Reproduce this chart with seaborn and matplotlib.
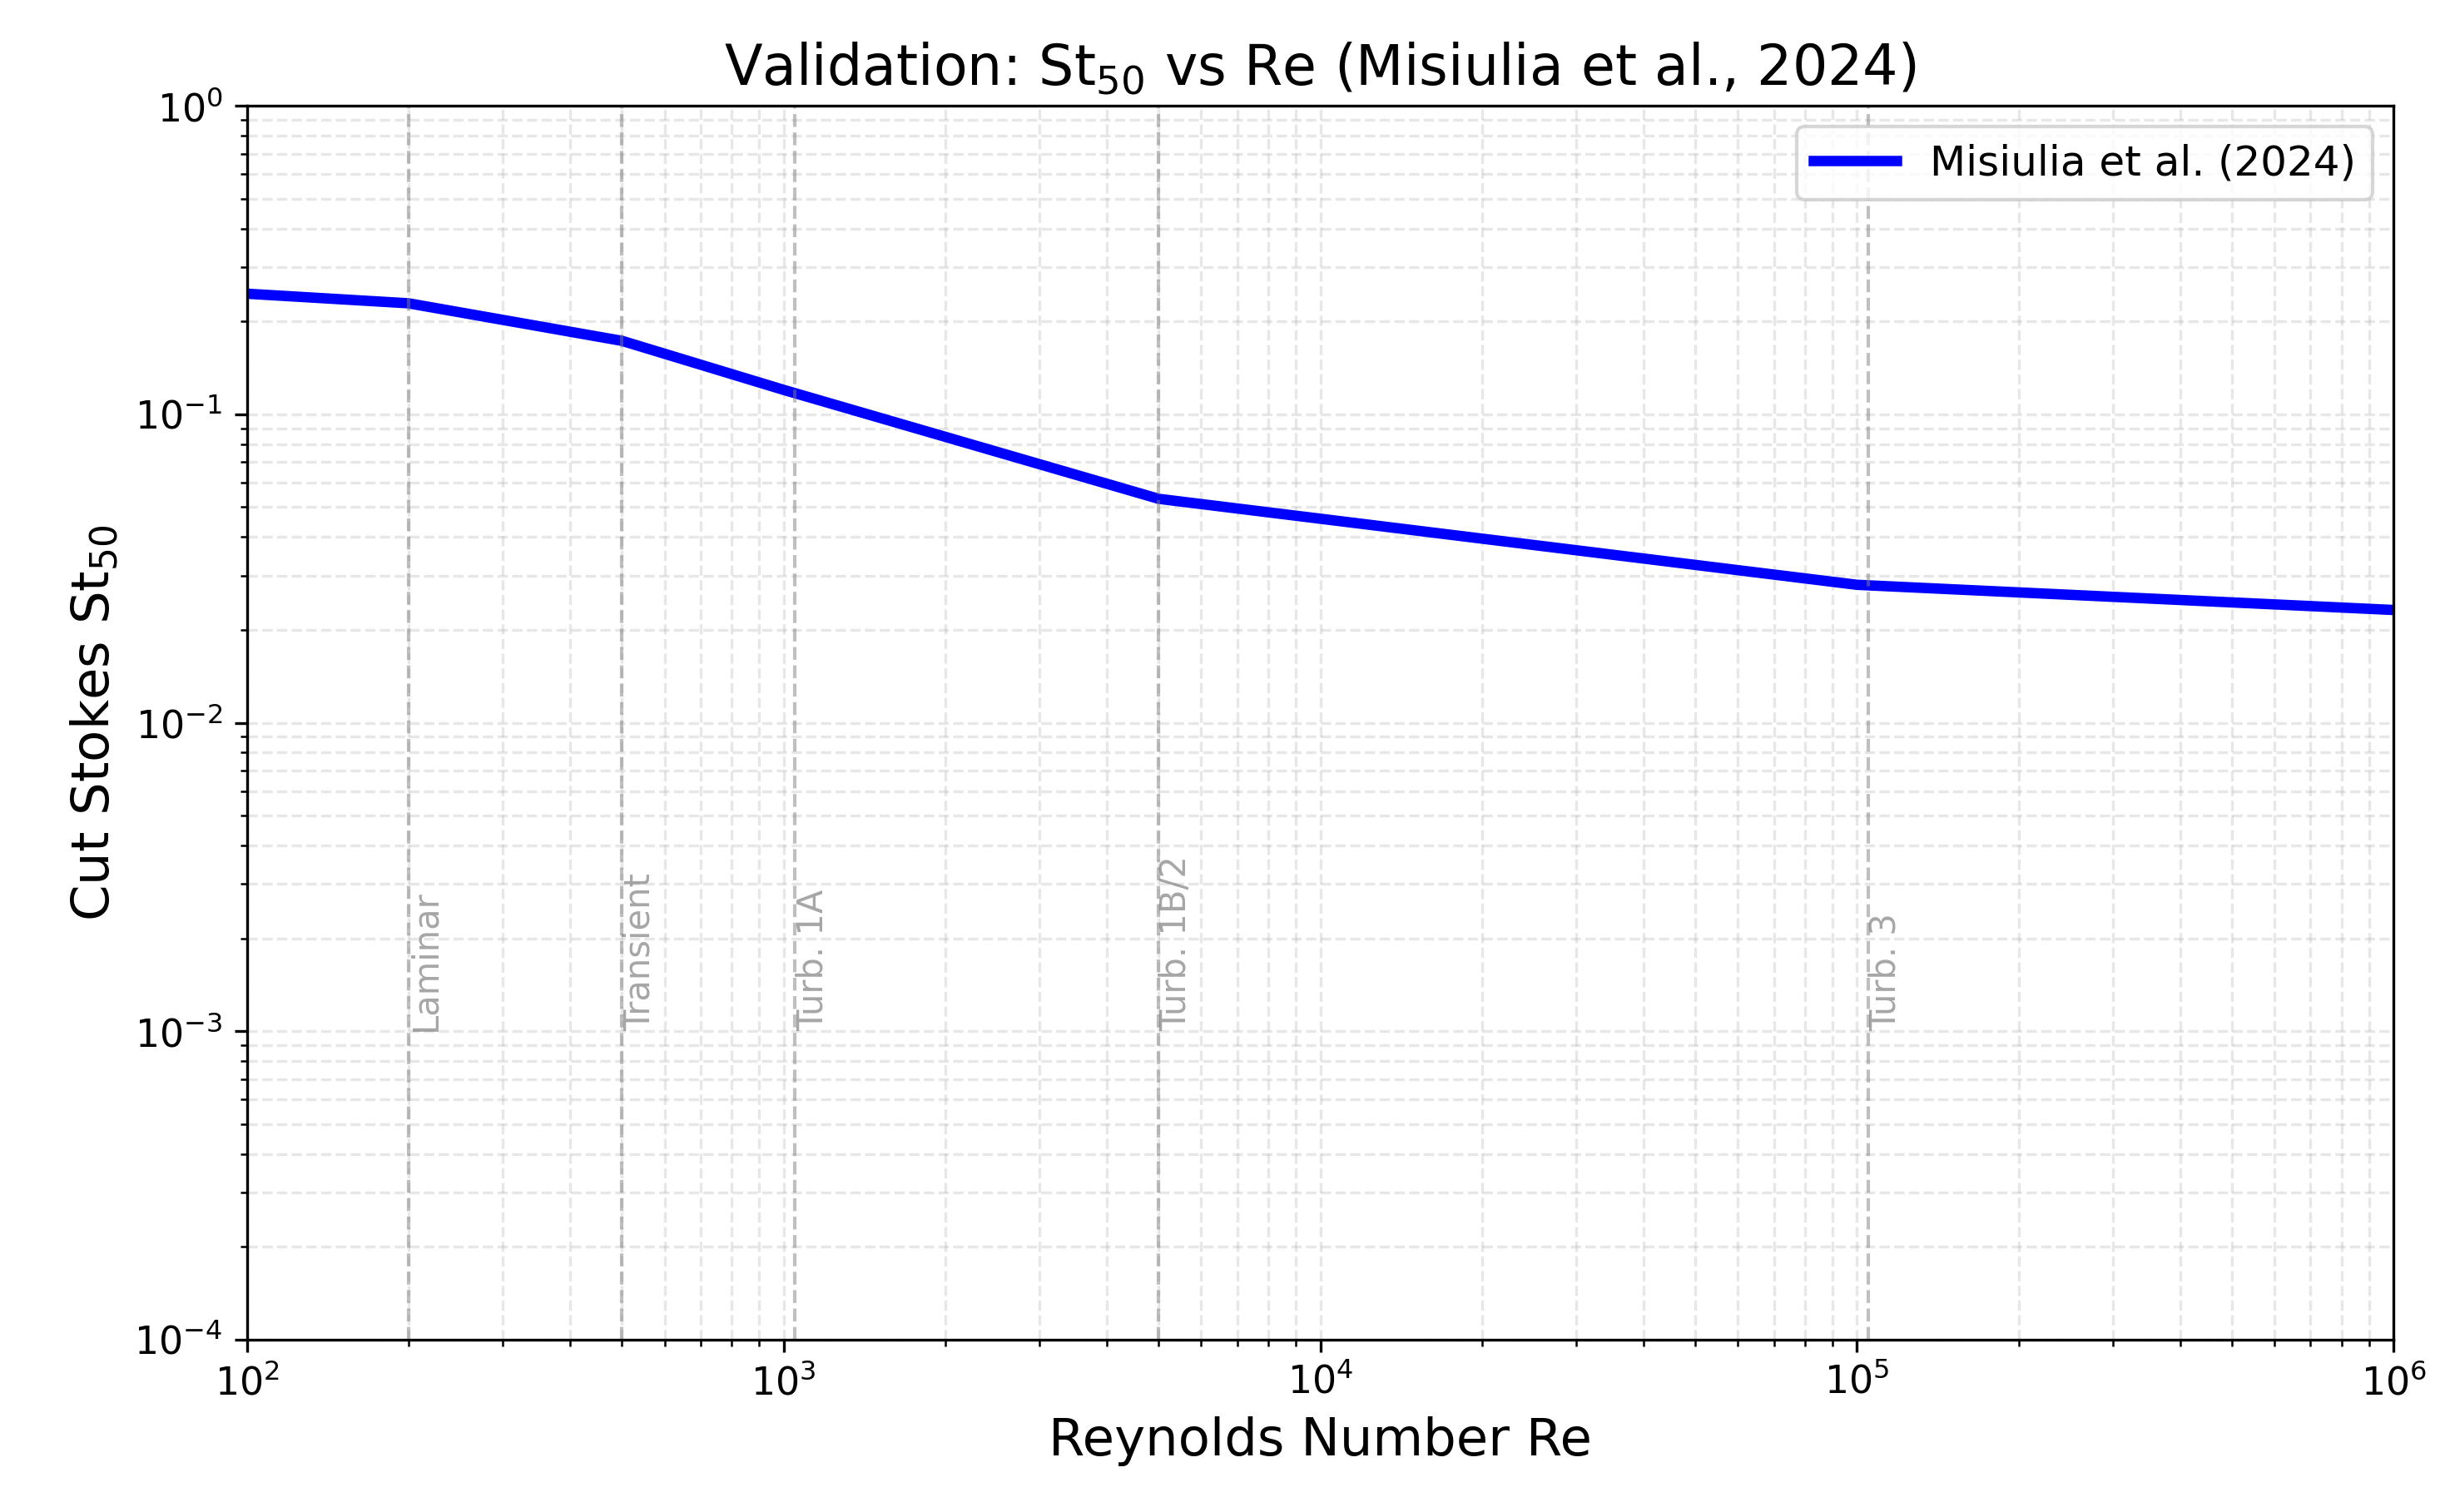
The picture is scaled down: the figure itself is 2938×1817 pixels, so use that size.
import numpy as np
import pandas as pd
import matplotlib
matplotlib.use("Agg")
import matplotlib.pyplot as plt
import seaborn as sns

# St50 vs Re curve
re_vals = [100, 200, 500, 1000, 5000, 100000, 1000000]
st50_vals = [0.246, 0.229, 0.173, 0.120, 0.0532, 0.0280, 0.0232]

# regime boundaries
regime_re = [200, 500, 1050, 5000, 105000]
regime_names = ["Laminar", "Transient", "Turb. 1A", "Turb. 1B/2", "Turb. 3"]

df = pd.DataFrame({"Re": re_vals, "St50": st50_vals})

plt.rcParams['font.family'] = ['DejaVu Sans']

fig, ax = plt.subplots(figsize=(2938 / 300, 1817 / 300), dpi=300)
fig.subplots_adjust(left=0.101, right=0.979, top=0.930, bottom=0.114)

sns.lineplot(data=df, x="Re", y="St50", ax=ax, color="blue", linewidth=3,
             label="Misiulia et al. (2024)")

for r, name in zip(regime_re, regime_names):
    ax.axvline(r, color="gray", linestyle="--", linewidth=1, alpha=0.5)
    ax.text(r, 1e-3, name, rotation=90, fontsize=10, color="gray", alpha=0.7,
            va="bottom", ha="left")

ax.set_xscale("log")
ax.set_yscale("log")
ax.set_xlim(1e2, 1e6)
ax.set_ylim(1e-4, 1e0)
ax.grid(True, which="both", linestyle="--", alpha=0.3)
ax.tick_params(labelsize=11)
ax.set_xlabel("Reynolds Number Re", fontsize=15)
ax.set_ylabel("Cut Stokes St$_{50}$", fontsize=15)
ax.set_title("Validation: St$_{50}$ vs Re (Misiulia et al., 2024)", fontsize=16)
ax.legend(loc="upper right", fontsize=12)

fig.savefig("out.png", dpi=300)
